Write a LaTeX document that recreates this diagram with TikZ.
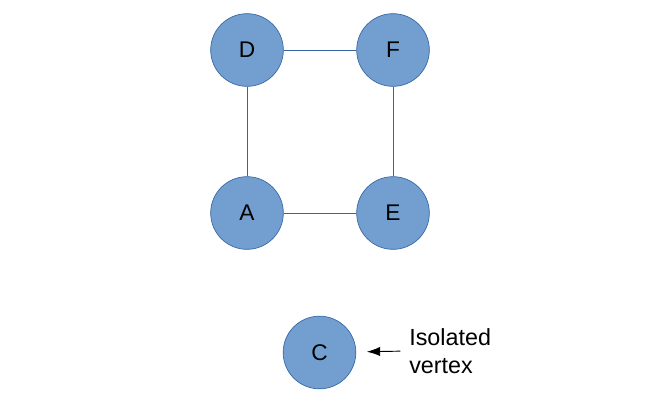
\documentclass[tikz,border=0pt]{standalone}
\usepackage{fontspec}
\setmainfont{Liberation Sans}
\usetikzlibrary{arrows.meta, positioning}

\begin{document}
\begin{tikzpicture}[x=0.75pt,y=0.75pt,yscale=-1,xscale=1,
  vertex/.style={circle, draw={rgb, 255:red, 52; green, 101; blue, 164}, line width=0.5pt,
    fill={rgb, 255:red, 114; green, 159; blue, 207}, minimum size=54.5pt, inner sep=0pt,
    font=\fontsize{17}{20}\selectfont},
  edge/.style={draw={rgb, 255:red, 52; green, 101; blue, 164}, line width=0.6pt},
  note/.style={align=left, inner sep=0pt, font=\fontsize{17.5}{20.5}\selectfont}]
\useasboundingbox (0,0) rectangle (666,411);

%Vertices
\node[vertex] (D) at (247,50) {D};
\node[vertex] (F) at (393,50) {F};
\node[vertex] (A) at (247,213) {A};
\node[vertex] (E) at (393,213) {E};
\node[vertex] (C) at (319.5,352.5) {C};

%Edges
\draw[edge] (D) -- (F);
\draw[edge] (D) -- (A);
\draw[edge] (F) -- (E);
\draw[edge] (A) -- (E);

%Label and arrow
\node[note, anchor=west] (lbl) at (409,351) {Isolated\\vertex};
\draw[-{Latex[length=10pt,width=7pt]}, line width=0.7pt, shorten <=6.5pt, shorten >=8pt] (lbl.west) -- (C);

\end{tikzpicture}
\end{document}
